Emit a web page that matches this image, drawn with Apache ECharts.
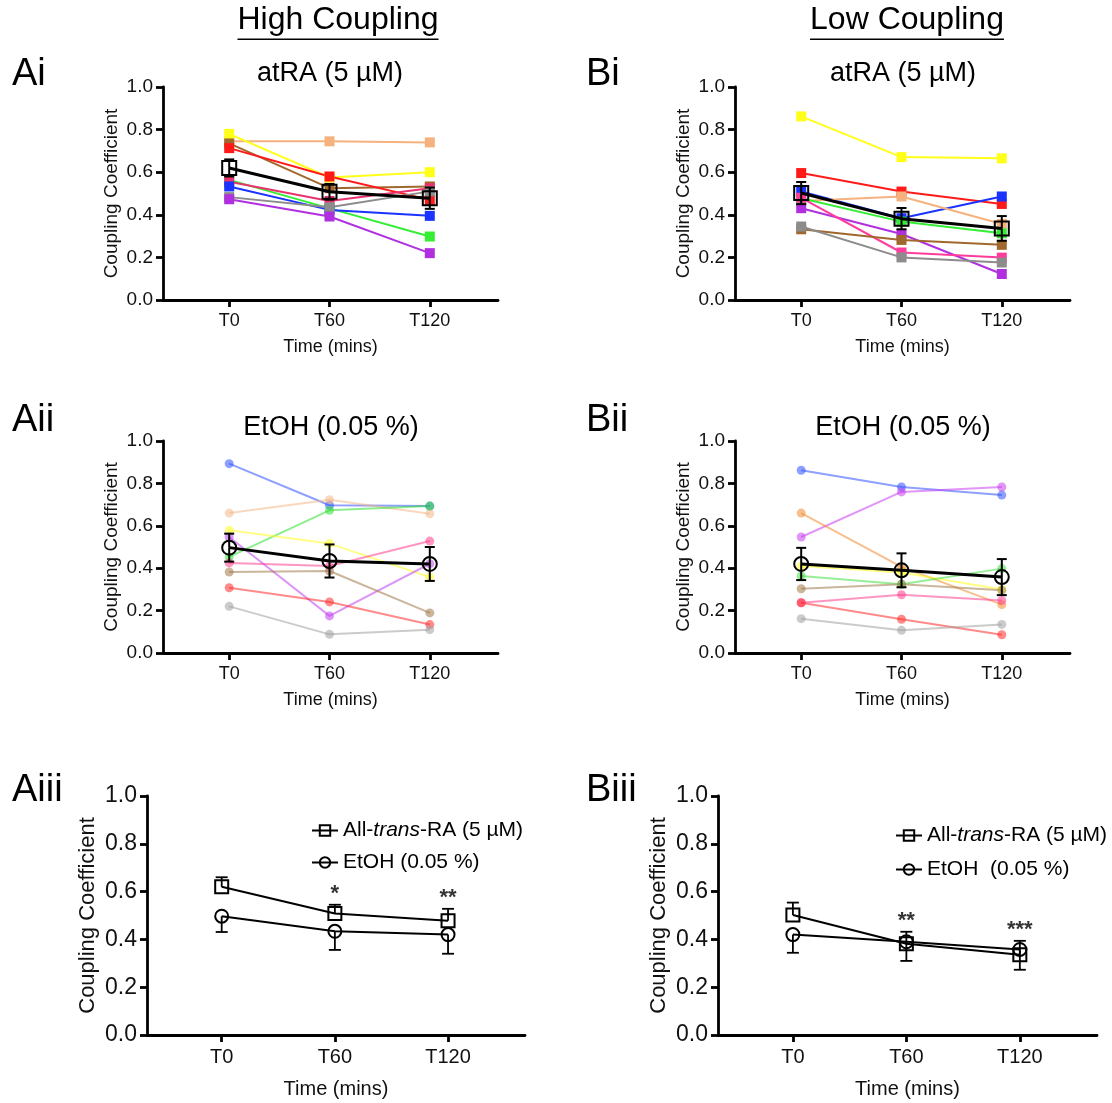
<!DOCTYPE html>
<html>
<head>
<meta charset="utf-8">
<script src="https://cdn.jsdelivr.net/npm/echarts@6/dist/echarts.min.js"></script>
<style>
  html, body { margin: 0; padding: 0; background: #fff; }
  #chart { width: 1112px; height: 1103px; }
</style>
</head>
<body>
<div id="chart"></div>
<script>
// Time points (minutes after treatment)
const timeLabels = ['T0', 'T60', 'T120'];

// High coupling, atRA (5 µM): one row per cell, values at T0/T60/T120
const hiAtRACells = [
  [0.745, 0.745, 0.740],
  [0.780, 0.575, 0.600],
  [0.735, 0.525, 0.533],
  [0.713, 0.580, 0.470],
  [0.564, 0.430, 0.298],
  [0.555, 0.465, 0.525],
  [0.533, 0.423, 0.395],
  [0.483, 0.435, 0.510],
  [0.473, 0.392, 0.220]
];
const hiAtRAMean = [0.620, 0.508, 0.478];
const hiAtRASem = [0.040, 0.037, 0.050];

// High coupling, EtOH (0.05 %)
const hiEtOHCells = [
  [0.893, 0.697, 0.693],
  [0.660, 0.723, 0.657],
  [0.453, 0.673, 0.693],
  [0.579, 0.516, 0.358],
  [0.547, 0.175, 0.421],
  [0.425, 0.410, 0.528],
  [0.382, 0.387, 0.189],
  [0.308, 0.241, 0.134],
  [0.220, 0.088, 0.110]
];
const hiEtOHMean = [0.497, 0.434, 0.420];
const hiEtOHSem = [0.066, 0.078, 0.080];

// Low coupling, atRA (5 µM)
const loAtRACells = [
  [0.862, 0.671, 0.665],
  [0.596, 0.509, 0.451],
  [0.509, 0.384, 0.486],
  [0.465, 0.486, 0.357],
  [0.478, 0.368, 0.313],
  [0.431, 0.310, 0.122],
  [0.480, 0.223, 0.199],
  [0.332, 0.282, 0.259],
  [0.345, 0.200, 0.176]
];
const loAtRAMean = [0.502, 0.382, 0.336];
const loAtRASem = [0.052, 0.050, 0.058];

// Low coupling, EtOH (0.05 %)
const loEtOHCells = [
  [0.862, 0.783, 0.745],
  [0.547, 0.760, 0.783],
  [0.660, 0.406, 0.228],
  [0.410, 0.380, 0.300],
  [0.363, 0.324, 0.398],
  [0.303, 0.324, 0.296],
  [0.237, 0.275, 0.248],
  [0.237, 0.159, 0.086],
  [0.162, 0.107, 0.135]
];
const loEtOHMean = [0.420, 0.390, 0.358];
const loEtOHSem = [0.076, 0.080, 0.085];

// Significance marks (atRA vs EtOH) per time point
const hiSignif = ['', '*', '**'];
const loSignif = ['', '**', '***'];

// Cell colours
const hiAtRAColours = ['#f5b27e', '#ffff1a', '#a0682d', '#ff1a1a', '#33ee33', '#e8336e', '#1a33ff', '#8c8c8c', '#b030e0'];
const loAtRAColours = ['#ffff1a', '#ff1a1a', '#1a33ff', '#f5b27e', '#33ee33', '#b030e0', '#ff3c9c', '#a0682d', '#8c8c8c'];
const hiEtOHColours = ['#3050ff', '#f2b888', '#30e030', '#ffff20', '#c040f0', '#ff4090', '#a07848', '#ff2a2a', '#a0a0a0'];
const loEtOHColours = ['#3050ff', '#c840f0', '#f08a30', '#ffff20', '#40e040', '#a07848', '#ff4090', '#ff2a2a', '#a0a0a0'];

const FONT = '"Liberation Sans", Arial, Helvetica, sans-serif';
const atRAName = 'All-trans-RA (5 µM)';

const grids = [
  { left: 163, top: 87, width: 335, height: 213 },   // Ai
  { left: 735, top: 87, width: 335, height: 213 },   // Bi
  { left: 163, top: 441, width: 335, height: 212 },  // Aii
  { left: 735, top: 441, width: 335, height: 212 },  // Bii
  { left: 147, top: 796, width: 378, height: 239 },  // Aiii
  { left: 718, top: 796, width: 379, height: 239 }   // Biii
];

function xAxisFor(i, big) {
  const fs = big ? 20 : 18;
  return {
    type: 'value', gridIndex: i, min: -0.66, max: 2.68,
    axisLine: { onZero: false, lineStyle: { color: '#000', width: 2.8 } },
    axisTick: { show: true, customValues: [0, 1, 2], length: 7, lineStyle: { color: '#000', width: 2.8 } },
    axisLabel: { customValues: [0, 1, 2], formatter: v => timeLabels[Math.round(v)], color: '#111', fontSize: fs, fontFamily: FONT, margin: 12 },
    splitLine: { show: false },
    name: 'Time (mins)', nameLocation: 'middle', nameGap: big ? 44 : 38,
    nameTextStyle: { color: '#111', fontSize: fs, fontFamily: FONT }
  };
}
function yAxisFor(i, big) {
  const fs = big ? 23 : 19;
  return {
    type: 'value', gridIndex: i, min: 0, max: 1, interval: 0.2,
    axisLine: { show: true, onZero: false, lineStyle: { color: '#000', width: 2.8 } },
    axisTick: { show: true, length: 7, lineStyle: { color: '#000', width: 2.8 } },
    axisLabel: { formatter: v => v.toFixed(1), color: '#111', fontSize: fs, fontFamily: FONT, margin: 10 },
    splitLine: { show: false },
    name: 'Coupling Coefficient', nameLocation: 'middle', nameGap: big ? 48 : 42, nameRotate: 90,
    nameTextStyle: { color: '#111', fontSize: big ? 22 : 19, fontFamily: FONT }
  };
}

const toPoints = arr => arr.map((v, k) => [k, v]);

// Error bar drawn from "from" to "to", with a cap at the "to" end
function errorBars(g, from, to, capW, lw) {
  return {
    type: 'custom', xAxisIndex: g, yAxisIndex: g, z: 5, silent: true,
    data: from.map((f, k) => [k, f, to[k]]),
    renderItem: function (params, api) {
      const a = api.coord([api.value(0), api.value(1)]);
      const b = api.coord([api.value(0), api.value(2)]);
      const st = { stroke: '#000', lineWidth: lw };
      return {
        type: 'group', children: [
          { type: 'line', shape: { x1: a[0], y1: a[1], x2: b[0], y2: b[1] }, style: st },
          { type: 'line', shape: { x1: b[0] - capW / 2, y1: b[1], x2: b[0] + capW / 2, y2: b[1] }, style: st }
        ]
      };
    }
  };
}

const series = [];

function cellSeries(g, cells, colours, symbol, size, opacity) {
  cells.forEach((row, r) => {
    series.push({
      type: 'line', xAxisIndex: g, yAxisIndex: g, z: 2,
      data: toPoints(row), symbol: symbol, symbolSize: size, silent: true,
      lineStyle: { color: colours[r], width: 2, opacity: opacity },
      itemStyle: { color: colours[r], opacity: opacity }
    });
  });
}
function meanSeries(g, mean, sem, symbol) {
  const up = mean.map((m, k) => m + sem[k]);
  const dn = mean.map((m, k) => m - sem[k]);
  series.push(errorBars(g, mean, up, 10, 2));
  series.push(errorBars(g, mean, dn, 10, 2));
  series.push({
    type: 'line', xAxisIndex: g, yAxisIndex: g, z: 6, silent: true,
    data: toPoints(mean), symbol: symbol, symbolSize: 14,
    lineStyle: { color: '#000', width: 3 },
    itemStyle: { color: 'rgba(255,255,255,0)', borderColor: '#000', borderWidth: 2 }
  });
}

// Ai, Bi: atRA individual cells + mean
cellSeries(0, hiAtRACells, hiAtRAColours, 'rect', 10, 1);
meanSeries(0, hiAtRAMean, hiAtRASem, 'rect');
cellSeries(1, loAtRACells, loAtRAColours, 'rect', 10, 1);
meanSeries(1, loAtRAMean, loAtRASem, 'rect');
// Aii, Bii: EtOH individual cells + mean
cellSeries(2, hiEtOHCells, hiEtOHColours, 'circle', 9, 0.55);
meanSeries(2, hiEtOHMean, hiEtOHSem, 'circle');
cellSeries(3, loEtOHCells, loEtOHColours, 'circle', 9, 0.55);
meanSeries(3, loEtOHMean, loEtOHSem, 'circle');

// Aiii, Biii: summary of means
function summary(g, atMean, atSem, etMean, etSem, etName, signif) {
  const atUp = atMean.map((m, k) => m + atSem[k]);
  const etDn = etMean.map((m, k) => m - etSem[k]);
  series.push(errorBars(g, atMean, atUp, 12, 1.8));
  series.push(errorBars(g, etMean, etDn, 12, 1.8));
  series.push({
    name: atRAName, type: 'line', xAxisIndex: g, yAxisIndex: g, z: 6,
    data: toPoints(atMean), symbol: 'rect', symbolSize: 13,
    lineStyle: { color: '#000', width: 2 },
    itemStyle: { color: 'rgba(255,255,255,0)', borderColor: '#000', borderWidth: 2 }
  });
  series.push({
    name: etName, type: 'line', xAxisIndex: g, yAxisIndex: g, z: 6,
    data: toPoints(etMean), symbol: 'circle', symbolSize: 13,
    lineStyle: { color: '#000', width: 2 },
    itemStyle: { color: 'rgba(255,255,255,0)', borderColor: '#000', borderWidth: 2 }
  });
  series.push({
    type: 'scatter', xAxisIndex: g, yAxisIndex: g, z: 7, silent: true,
    data: atUp.map((v, k) => [k, Math.max(v, etMean[k])]), symbolSize: 0,
    label: {
      show: true, position: 'top', distance: 0,
      formatter: p => signif[p.dataIndex], color: '#000', fontSize: 22, fontFamily: FONT, fontWeight: 'bold'
    }
  });
}
summary(4, hiAtRAMean, hiAtRASem, hiEtOHMean, hiEtOHSem, 'EtOH (0.05 %)', hiSignif);
summary(5, loAtRAMean, loAtRASem, loEtOHMean, loEtOHSem, 'EtOH  (0.05 %)', loSignif);

// Text helpers
const measureCtx = document.createElement('canvas').getContext('2d');
function textW(txt, size) { measureCtx.font = size + 'px ' + FONT; return measureCtx.measureText(txt).width; }
function label(txt, x, y, size, align) {
  return { type: 'text', x: x, y: y, silent: true,
    style: { text: txt, fill: '#000', fontSize: size, fontFamily: FONT, align: align || 'left', verticalAlign: 'top' } };
}
function header(txt, cx, y, size) {
  const w = textW(txt, size);
  return [
    label(txt, cx, y, size, 'center'),
    { type: 'line', silent: true, shape: { x1: cx - w / 2, y1: y + size * 1.1, x2: cx + w / 2, y2: y + size * 1.1 },
      style: { stroke: '#000', lineWidth: 1.5 } }
  ];
}

const legendRich = { i: { fontStyle: 'italic', fontSize: 21, fontFamily: FONT, color: '#000' } };
const legendFmt = n => n === atRAName ? 'All-{i|trans}-RA (5 µM)' : n;

const option = {
  animation: false,
  backgroundColor: '#fff',
  grid: grids,
  xAxis: [xAxisFor(0), xAxisFor(1), xAxisFor(2), xAxisFor(3), xAxisFor(4, true), xAxisFor(5, true)],
  yAxis: [yAxisFor(0), yAxisFor(1), yAxisFor(2), yAxisFor(3), yAxisFor(4, true), yAxisFor(5, true)],
  legend: [
    { data: [atRAName, 'EtOH (0.05 %)'], orient: 'vertical', left: 306, top: 815, itemGap: 11,
      itemWidth: 26, itemHeight: 13, selectedMode: false, formatter: legendFmt,
      textStyle: { fontSize: 21, fontFamily: FONT, color: '#000', rich: legendRich } },
    { data: [atRAName, 'EtOH  (0.05 %)'], orient: 'vertical', left: 890, top: 820, itemGap: 13,
      itemWidth: 26, itemHeight: 13, selectedMode: false, formatter: legendFmt,
      textStyle: { fontSize: 21, fontFamily: FONT, color: '#000', rich: legendRich } }
  ],
  graphic: [].concat(
    header('High Coupling', 338, 4, 32),
    header('Low Coupling', 907, 4, 32),
    [
      label('Ai', 12, 56, 38), label('Bi', 586, 56, 38),
      label('Aii', 12, 402, 38), label('Bii', 586, 402, 38),
      label('Aiii', 12, 772, 38), label('Biii', 586, 772, 38),
      label('atRA (5 µM)', 330, 60, 27, 'center'), label('atRA (5 µM)', 903, 60, 27, 'center'),
      label('EtOH (0.05 %)', 331, 414, 27, 'center'), label('EtOH (0.05 %)', 903, 414, 27, 'center')
    ]
  ),
  series: series
};

const chart = echarts.init(document.getElementById('chart'), null, { renderer: 'canvas' });
chart.setOption(option);
</script>
</body>
</html>
